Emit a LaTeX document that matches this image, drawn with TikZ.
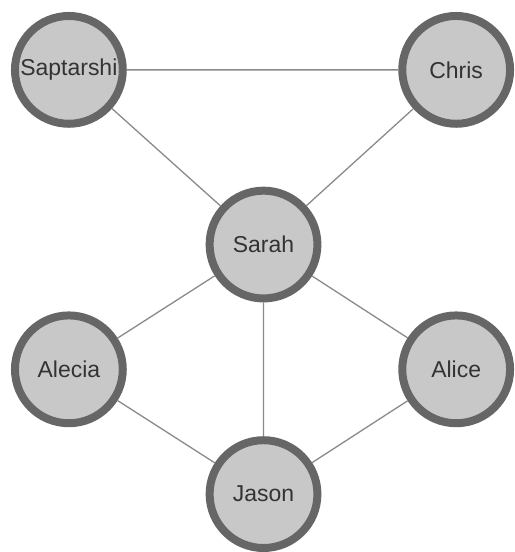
\documentclass[tikz,border=0pt]{standalone}
\usepackage{fontspec}
\setmainfont{Liberation Sans}
\usetikzlibrary{positioning}

\definecolor{ringgray}{HTML}{666666}
\definecolor{fillgray}{HTML}{C8C8C8}
\definecolor{edgegray}{HTML}{8A8A8A}

\begin{document}
\begin{tikzpicture}[on grid,
    person/.style={circle,draw=ringgray,fill=fillgray,line width=8pt,
                   minimum size=108pt,inner sep=0pt,outer sep=4pt,text=black!80,
                   font=\fontsize{23}{27}\selectfont},
    link/.style={draw=edgegray,line width=1.3pt}]
    \node[person] (sarah)                                            {Sarah};
    \node[person] (saptarshi) [above left=175pt and 195pt of sarah]  {Saptarshi};
    \node[person] (chris)     [above right=175pt and 193pt of sarah] {Chris};
    \node[person] (alecia)    [below left=125pt and 195pt of sarah]  {Alecia};
    \node[person] (alice)     [below right=125pt and 193pt of sarah] {Alice};
    \node[person] (jason)     [below=250pt of sarah]                 {Jason};

    \useasboundingbox (sarah) ++(-264pt,245pt) rectangle ++(509pt,-552pt);

    \path[link] (saptarshi) -- (chris)
                (saptarshi) -- (sarah)
                (chris)     -- (sarah)
                (sarah)     -- (alecia)
                (sarah)     -- (alice)
                (sarah)     -- (jason)
                (alecia)    -- (jason)
                (alice)     -- (jason);
\end{tikzpicture}
\end{document}
